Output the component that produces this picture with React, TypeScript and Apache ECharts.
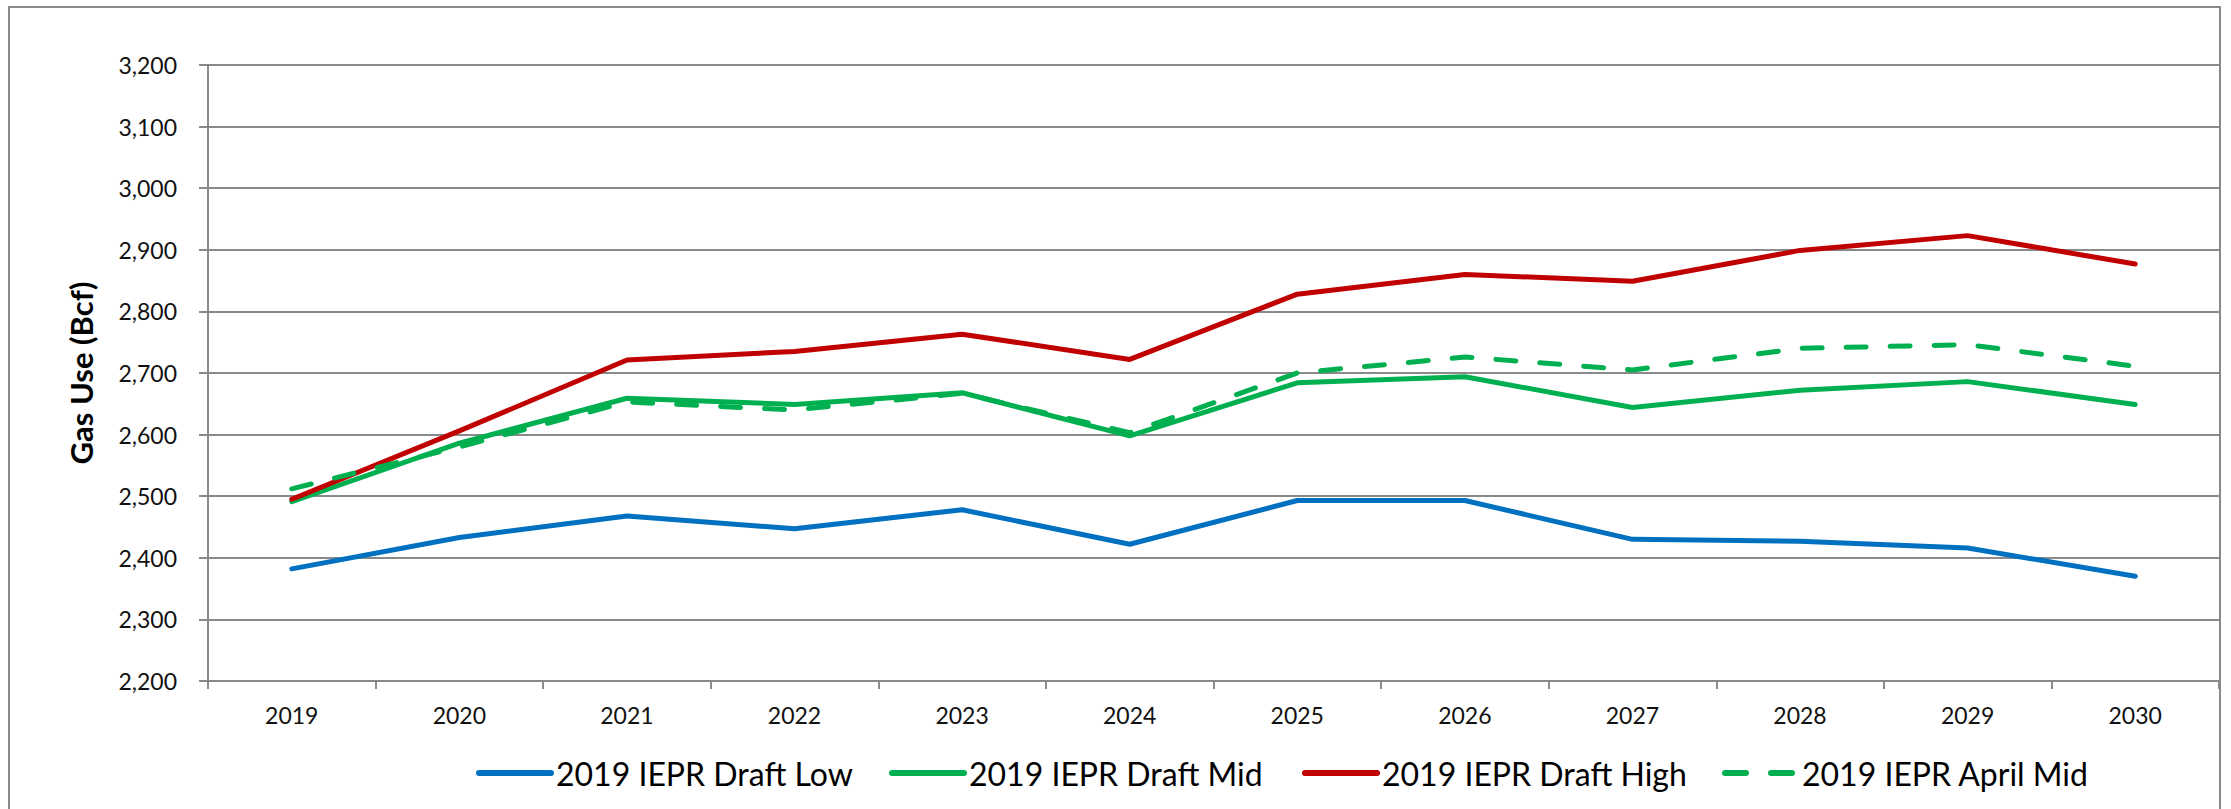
import React, { useEffect, useRef } from "react";
import * as echarts from "echarts";

const years = ["2019", "2020", "2021", "2022", "2023", "2024", "2025", "2026", "2027", "2028", "2029", "2030"];
const draftLow = [2382, 2433, 2468, 2447, 2478, 2422, 2493, 2493, 2430, 2427, 2416, 2370];
const draftMid = [2491, 2586, 2659, 2649, 2668, 2598, 2684, 2694, 2644, 2672, 2686, 2649];
const draftHigh = [2495, 2606, 2721, 2735, 2763, 2722, 2828, 2860, 2849, 2899, 2923, 2877];
const aprilMid = [2512, 2580, 2653, 2640, 2667, 2603, 2700, 2726, 2705, 2740, 2746, 2711];

const seriesNames = ["2019 IEPR Draft Low", "2019 IEPR Draft Mid", "2019 IEPR Draft High", "2019 IEPR April Mid"];
const seriesColors = ["#0070C0", "#00B050", "#C00000", "#00B050"];
const legendLefts = [471, 884, 1297, 1717];

const FONT = "Lato, 'Open Sans', sans-serif";
const GRID_COLOR = "#8a8a8a";

export default function App() {
  const ref = useRef<HTMLDivElement>(null);

  useEffect(() => {
    if (!ref.current) return;
    const chart = echarts.init(ref.current, null, { renderer: "svg" });
    const values = [draftLow, draftMid, draftHigh, aprilMid];

    const option: any = {
      animation: false,
      backgroundColor: "#ffffff",
      textStyle: { fontFamily: FONT },
      grid: { left: 208, right: 12, top: 65, bottom: 128, containLabel: false },
      xAxis: {
        type: "category",
        data: years,
        boundaryGap: true,
        axisLine: { lineStyle: { color: GRID_COLOR, width: 2 } },
        axisTick: { show: true, length: 8, alignWithLabel: false, lineStyle: { color: GRID_COLOR, width: 2 } },
        axisLabel: { color: "#111", fontSize: 23, fontFamily: FONT, margin: 22, interval: 0 },
        splitLine: { show: false },
      },
      yAxis: {
        type: "value",
        min: 2200,
        max: 3200,
        interval: 100,
        name: "Gas Use (Bcf)",
        nameLocation: "middle",
        nameRotate: 90,
        nameGap: 112,
        nameTextStyle: { fontSize: 31, fontWeight: "bold", color: "#000", fontFamily: FONT },
        axisLine: { show: true, lineStyle: { color: GRID_COLOR, width: 2 } },
        axisTick: { show: true, length: 9, lineStyle: { color: GRID_COLOR, width: 2 } },
        axisLabel: {
          color: "#111",
          fontSize: 23,
          fontFamily: FONT,
          margin: 31,
          formatter: (v: number) => v.toLocaleString("en-US"),
        },
        splitLine: { show: true, lineStyle: { color: GRID_COLOR, width: 2 } },
      },
      legend: seriesNames.map((name, i) => ({
        data: [name],
        left: legendLefts[i],
        top: 752,
        orient: "horizontal",
        itemWidth: 72,
        itemHeight: 40,
        itemStyle: { opacity: 0, borderWidth: 0 },
        lineStyle: { width: 6, cap: "round", type: i === 3 ? [21, 25] : "solid" },
        textStyle: { fontSize: 32, color: "#000", fontFamily: FONT },
        selectedMode: false,
      })),
      series: seriesNames.map((name, i) => ({
        name,
        type: "line",
        data: values[i],
        symbol: "none",
        showSymbol: false,
        color: seriesColors[i],
        lineStyle: {
          color: seriesColors[i],
          width: 5,
          cap: "round",
          join: "round",
          type: i === 3 ? [20, 24] : "solid",
        },
        z: 2 + i,
      })),
      graphic: [
        {
          type: "rect",
          shape: { x: 9, y: 7, width: 2211, height: 900 },
          style: { fill: "none", stroke: GRID_COLOR, lineWidth: 2 },
          silent: true,
        },
      ],
    };

    chart.setOption(option);
    return () => chart.dispose();
  }, []);

  return (
    <div
      ref={ref}
      style={{ position: "absolute", left: 0, top: 0, width: 2231, height: 809, background: "#fff" }}
    />
  );
}
